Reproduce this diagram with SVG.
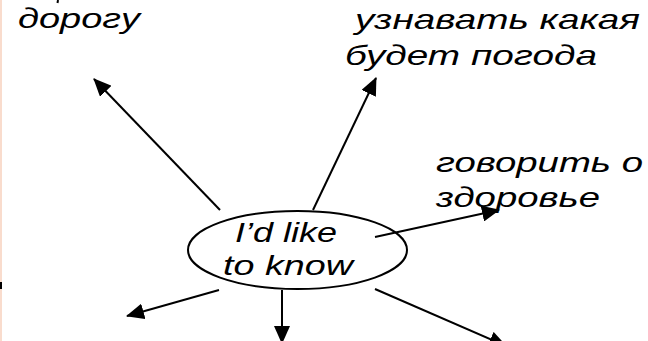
<svg xmlns="http://www.w3.org/2000/svg" width="648" height="341" viewBox="0 0 648 341">
  <style>
    .lbl { font-family: "Liberation Sans", Arial, sans-serif; font-style: italic; font-size: 28px; fill: #000; }
    .conn { stroke: #000; stroke-width: 2; fill: none; marker-end: url(#ah); }
  </style>
  <defs>
    <marker id="ah" markerUnits="userSpaceOnUse" markerWidth="18" markerHeight="16" refX="17" refY="8" orient="auto">
      <path d="M0,0 L18,8 L0,16 z" fill="#000"/>
    </marker>
  </defs>
  <rect width="648" height="341" fill="#fff"/>
  <rect x="0" y="0" width="2" height="341" fill="#f9dccd"/>
  <rect x="0" y="282" width="2" height="7" fill="#000"/>
  <line x1="58" y1="0" x2="57.5" y2="3" stroke="#000" stroke-width="2"/>

  <g id="connectors">
    <line class="conn" x1="220" y1="210" x2="94" y2="79"/>
    <line class="conn" x1="313" y1="210" x2="376" y2="78"/>
    <line class="conn" x1="375" y1="237" x2="499" y2="210"/>
    <line class="conn" x1="219" y1="290" x2="127" y2="316"/>
    <line class="conn" x1="282" y1="290" x2="282" y2="343"/>
    <line class="conn" x1="375" y1="289" x2="506" y2="346"/>
  </g>

  <g id="center">
    <ellipse cx="297.5" cy="250" rx="109.5" ry="39" fill="none" stroke="#000" stroke-width="2"/>
    <text class="lbl" x="235" y="242" textLength="102" lengthAdjust="spacingAndGlyphs">I’d like</text>
    <text class="lbl" x="223" y="275" textLength="130" lengthAdjust="spacingAndGlyphs">to know</text>
  </g>

  <g id="node-road">
    <text class="lbl" x="18" y="28" textLength="122" lengthAdjust="spacingAndGlyphs">дорогу</text>
  </g>

  <g id="node-weather">
    <text class="lbl" x="355" y="29" textLength="285" lengthAdjust="spacingAndGlyphs">узнавать какая</text>
    <text class="lbl" x="345" y="65" textLength="252" lengthAdjust="spacingAndGlyphs">будет погода</text>
  </g>

  <g id="node-health">
    <text class="lbl" x="436" y="172" textLength="207" lengthAdjust="spacingAndGlyphs">говорить о</text>
    <text class="lbl" x="436" y="207" textLength="164" lengthAdjust="spacingAndGlyphs">здоровье</text>
  </g>
</svg>
